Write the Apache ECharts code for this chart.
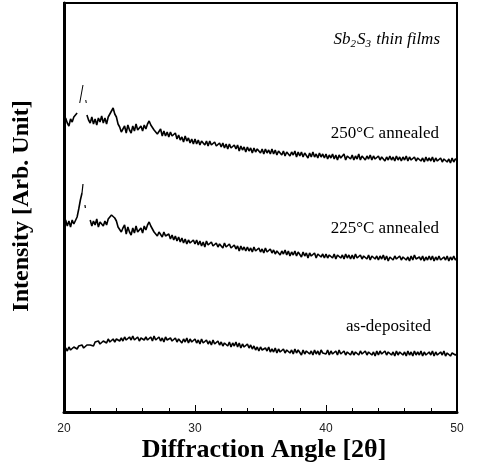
<!DOCTYPE html>
<html>
<head>
<meta charset="utf-8">
<script src="https://cdn.jsdelivr.net/npm/echarts@6/dist/echarts.min.js"></script>
<style>html,body{margin:0;padding:0;background:#fff}#c{width:479px;height:467px}</style>
</head>
<body>
<div id="c"></div>
<script>
// 2θ sample positions (degrees)
const angles = [
20,20.125,20.25,20.375,20.5,20.625,20.75,20.875,21,21.125,21.25,21.375,21.5,21.625,21.75,21.875,
22,22.125,22.25,22.375,22.5,22.625,22.75,22.875,23,23.125,23.25,23.375,23.5,23.625,23.75,23.875,
24,24.125,24.25,24.375,24.5,24.625,24.75,24.875,25,25.125,25.25,25.375,25.5,25.625,25.75,25.875,
26,26.125,26.25,26.375,26.5,26.625,26.75,26.875,27,27.125,27.25,27.375,27.5,27.625,27.75,27.875,
28,28.125,28.25,28.375,28.5,28.625,28.75,28.875,29,29.125,29.25,29.375,29.5,29.625,29.75,29.875,
30,30.125,30.25,30.375,30.5,30.625,30.75,30.875,31,31.125,31.25,31.375,31.5,31.625,31.75,31.875,
32,32.125,32.25,32.375,32.5,32.625,32.75,32.875,33,33.125,33.25,33.375,33.5,33.625,33.75,33.875,
34,34.125,34.25,34.375,34.5,34.625,34.75,34.875,35,35.125,35.25,35.375,35.5,35.625,35.75,35.875,
36,36.125,36.25,36.375,36.5,36.625,36.75,36.875,37,37.125,37.25,37.375,37.5,37.625,37.75,37.875,
38,38.125,38.25,38.375,38.5,38.625,38.75,38.875,39,39.125,39.25,39.375,39.5,39.625,39.75,39.875,
40,40.125,40.25,40.375,40.5,40.625,40.75,40.875,41,41.125,41.25,41.375,41.5,41.625,41.75,41.875,
42,42.125,42.25,42.375,42.5,42.625,42.75,42.875,43,43.125,43.25,43.375,43.5,43.625,43.75,43.875,
44,44.125,44.25,44.375,44.5,44.625,44.75,44.875,45,45.125,45.25,45.375,45.5,45.625,45.75,45.875,
46,46.125,46.25,46.375,46.5,46.625,46.75,46.875,47,47.125,47.25,47.375,47.5,47.625,47.75,47.875,
48,48.125,48.25,48.375,48.5,48.625,48.75,48.875,49,49.125,49.25,49.375,49.5,49.625,49.75,49.875,
50];

// Intensity (arb. units, vertically offset traces)
const int250 = [
288,294,289,286,293,290,295,293,299,null,null,null,null,null,297,292,
289,295,288,293,287,294,290,296,289,294,288,295,297,301,304,298,
295,288,285,280,282,286,279,287,282,279,286,281,288,282,280,286,
281,287,283,288,291,287,285,282,283,278,280,283,276,281,276,280,
275,280,276,274,279,273,277,272,275,270,276,271,274,269,273,268,
273,268,272,267,271,273,267,271,266,271,267,265,270,266,264,269,
265,269,264,268,263,268,264,262,267,263,267,261,266,262,265,260,
265,261,264,259,264,260,263,265,259,263,258,263,259,262,258,263,
258,262,257,261,263,257,261,256,260,262,256,260,257,261,255,260,
256,260,255,259,258,254,259,255,260,255,258,254,259,255,258,254,
258,253,257,254,258,253,257,252,257,254,253,258,252,256,257,253,
257,252,256,253,258,252,256,257,252,256,253,257,252,256,253,254,
256,252,255,257,251,255,252,256,252,255,251,256,252,255,251,255,
252,256,251,255,252,250,255,251,254,256,251,254,250,255,251,254,
251,255,250,254,251,249,254,250,253,255,250,253,249,254,250,253,
252];
const int225 = [
187,192,186,191,185,192,188,189,195,203,212,219,null,null,null,null,
192,186,191,187,193,185,190,192,186,191,187,193,192,197,199,194,
191,185,186,180,184,187,178,185,180,177,184,179,186,180,178,184,
179,186,182,187,190,186,185,180,181,176,180,182,175,180,176,174,
178,173,177,172,176,171,175,170,174,169,173,168,172,169,167,172,
168,172,167,171,166,170,165,171,167,165,170,166,164,169,165,168,
168,164,169,165,163,168,164,162,167,163,166,161,166,162,165,161,
165,161,164,160,165,161,159,164,160,163,159,164,160,158,163,159,
162,158,161,163,157,161,158,162,157,161,156,160,157,161,156,160,
159,155,160,156,159,154,159,156,155,159,154,158,160,155,158,154,
158,154,157,159,154,158,153,157,158,154,157,153,158,154,157,153,
157,153,158,154,152,157,153,156,158,153,157,152,156,157,153,156,
152,156,153,157,152,156,151,155,157,152,156,153,151,156,152,155,
156,152,155,151,156,152,157,153,151,155,152,156,151,155,152,156,
152,156,151,155,152,156,152,151,155,152,156,151,155,152,156,152,
154];
const intDep = [
61,64,61,65,62,63,65,64,63,66,64,67,64,65,67,66,
67,69,66,70,68,71,68,69,71,70,69,73,70,72,73,70,
73,74,71,74,71,75,72,71,75,72,76,72,73,75,71,74,
76,72,75,72,71,75,71,76,72,71,75,71,74,70,75,72,
70,74,71,70,74,70,73,74,69,73,70,74,69,73,70,69,
73,69,72,68,73,69,68,72,68,71,67,72,68,67,71,67,
70,66,69,70,66,70,65,69,66,70,65,69,64,68,65,64,
68,64,67,63,66,62,65,61,65,62,61,64,61,65,60,63,
60,64,59,63,60,58,63,59,62,63,59,62,58,63,59,62,
61,57,62,58,61,62,58,61,57,62,58,61,57,62,59,60,
58,62,57,61,58,56,61,57,62,58,57,61,57,60,61,57,
61,57,60,61,57,61,58,56,61,57,60,61,57,60,56,61,
57,61,58,56,61,57,60,61,57,60,56,61,57,60,61,57,
60,56,61,57,60,56,61,57,60,57,61,56,60,57,56,60,
57,61,56,60,57,56,60,57,61,56,59,60,56,59,60,57,
58];
// faint peak traces near 21.4°
const spike250X = [21.2, 21.45, null, 21.66, 21.7];
const spike250Y = [309, 327, null, 312, 309];
const spike225X = [21.375, 21.45, null, 21.6, 21.63];
const spike225Y = [219, 228, null, 207, 204];

const xTicks = [20, 30, 40, 50];

function pairs(xs, ys) { return xs.map((x, i) => (x === null || ys[i] === null) ? [x, null] : [x, ys[i]]); }

const chart = echarts.init(document.getElementById('c'), null, {renderer: 'canvas'});
const lineStyleMain = {color: '#000', width: 1.6};
const base = {type: 'line', showSymbol: false, symbol: 'none', animation: false, connectNulls: false, sampling: null};
chart.setOption({
  animation: false,
  backgroundColor: '#fff',
  grid: {left: 64, right: 22, top: 3, bottom: 55, show: true, borderColor: '#000', borderWidth: 2},
  xAxis: {
    type: 'value', min: xTicks[0], max: xTicks[xTicks.length - 1], interval: 10,
    axisLine: {show: true, lineStyle: {color: '#000', width: 3}},
    axisTick: {show: true, inside: true, length: 7, lineStyle: {color: '#000', width: 1}},
    minorTick: {show: true, splitNumber: 5, length: 4, lineStyle: {color: '#000', width: 1}},
    axisLabel: {color: '#222', fontFamily: 'Liberation Sans', fontSize: 12, margin: 11},
    splitLine: {show: false}
  },
  yAxis: {
    type: 'value', min: 0, max: 409,
    axisLine: {show: true, lineStyle: {color: '#000', width: 3}},
    axisTick: {show: false}, axisLabel: {show: false}, splitLine: {show: false}
  },
  series: [
    Object.assign({}, base, {data: pairs(angles, int250), lineStyle: lineStyleMain}),
    Object.assign({}, base, {data: pairs(angles, int225), lineStyle: lineStyleMain}),
    Object.assign({}, base, {data: pairs(angles, intDep), lineStyle: lineStyleMain}),
    Object.assign({}, base, {data: pairs(spike250X, spike250Y), lineStyle: {color: '#000', width: 1}}),
    Object.assign({}, base, {data: pairs(spike225X, spike225Y), lineStyle: {color: '#000', width: 1.2}})
  ],
  graphic: [
    {type: 'text', right: 39, top: 31, style: {
      rich: {
        i: {fontFamily: 'Liberation Serif', fontStyle: 'italic', fontSize: 17, fill: '#000'},
        s: {fontFamily: 'Liberation Serif', fontStyle: 'italic', fontSize: 11, fill: '#000', padding: [9, 1, 0, 0]}
      },
      text: '{i|Sb}{s|2}{i|S}{s|3}{i| thin films}'
    }},
    {type: 'text', right: 40, top: 125, style: {text: '250°C annealed', fontFamily: 'Liberation Serif', fontSize: 17, fill: '#000'}},
    {type: 'text', right: 40, top: 220, style: {text: '225°C annealed', fontFamily: 'Liberation Serif', fontSize: 17, fill: '#000'}},
    {type: 'text', right: 48, top: 318, style: {text: 'as-deposited', fontFamily: 'Liberation Serif', fontSize: 17, fill: '#000'}},
    {type: 'text', x: 264, y: 450, style: {text: 'Diffraction Angle [2θ]', fontFamily: 'Liberation Serif', fontWeight: 'bold', fontSize: 26, fill: '#000', textAlign: 'center', textVerticalAlign: 'middle'}},
    {type: 'text', x: 22, y: 206, rotation: Math.PI / 2, style: {text: 'Intensity [Arb. Unit]', fontFamily: 'Liberation Serif', fontWeight: 'bold', fontSize: 24, fill: '#000', textAlign: 'center', textVerticalAlign: 'middle'}}
  ]
});
</script>
</body>
</html>
